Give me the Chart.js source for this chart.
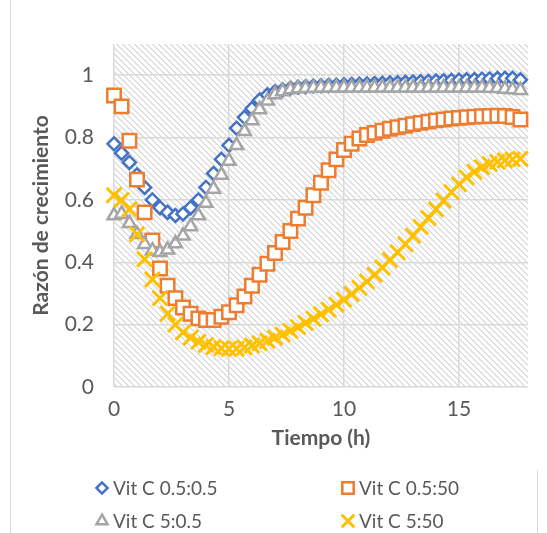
<!DOCTYPE html>
<html>
<head>
<meta charset="utf-8">
<script src="https://cdn.jsdelivr.net/npm/chart.js@4/dist/chart.umd.min.js"></script>
<style>
  body { margin: 0; background: #fff; }
  #wrap { width: 547px; height: 533px; position: relative; }
</style>
</head>
<body>
<div id="wrap"><canvas id="growthChart" width="547" height="533"></canvas></div>
<script>
// tiempo en horas (cada 20 min)
var tiempo = [
  0, 0.33, 0.67, 1, 1.33, 1.67, 2, 2.33, 2.67,
  3, 3.33, 3.67, 4, 4.33, 4.67, 5, 5.33, 5.67,
  6, 6.33, 6.67, 7, 7.33, 7.67, 8, 8.33, 8.67,
  9, 9.33, 9.67, 10, 10.33, 10.67, 11, 11.33, 11.67,
  12, 12.33, 12.67, 13, 13.33, 13.67, 14, 14.33, 14.67,
  15, 15.33, 15.67, 16, 16.33, 16.67, 17, 17.33, 17.67
];

var vitC_05_05 = [
  0.78, 0.75, 0.72, 0.68, 0.64, 0.60, 0.575, 0.56, 0.55,
  0.555, 0.575, 0.60, 0.64, 0.685, 0.73, 0.775, 0.83, 0.865,
  0.893, 0.92, 0.937, 0.947, 0.953, 0.958, 0.961, 0.963, 0.965,
  0.966, 0.967, 0.968, 0.969, 0.97, 0.971, 0.972, 0.973, 0.974,
  0.975, 0.976, 0.977, 0.978, 0.979, 0.98, 0.981, 0.982, 0.983,
  0.984, 0.985, 0.986, 0.987, 0.988, 0.989, 0.99, 0.99, 0.985
];

var vitC_05_50 = [
  0.935, 0.90, 0.79, 0.665, 0.56, 0.47, 0.38, 0.325, 0.285,
  0.255, 0.235, 0.22, 0.215, 0.215, 0.225, 0.24, 0.262, 0.29,
  0.325, 0.36, 0.395, 0.43, 0.465, 0.50, 0.54, 0.575, 0.615,
  0.655, 0.695, 0.73, 0.76, 0.78, 0.797, 0.808, 0.815, 0.822,
  0.828, 0.833, 0.838, 0.843, 0.847, 0.851, 0.855, 0.858, 0.861,
  0.863, 0.865, 0.867, 0.868, 0.869, 0.87, 0.869, 0.866, 0.858
];

var vitC_5_05 = [
  0.55, 0.555, 0.525, 0.49, 0.458, 0.437, 0.432, 0.44, 0.46,
  0.485, 0.515, 0.55, 0.59, 0.635, 0.68, 0.725, 0.775, 0.82,
  0.855, 0.89, 0.918, 0.938, 0.948, 0.954, 0.957, 0.958, 0.959,
  0.96, 0.96, 0.96, 0.96, 0.96, 0.96, 0.96, 0.96, 0.96,
  0.96, 0.96, 0.96, 0.96, 0.96, 0.96, 0.96, 0.96, 0.96,
  0.96, 0.96, 0.96, 0.96, 0.959, 0.958, 0.956, 0.954, 0.952
];

var vitC_5_50 = [
  0.615, 0.60, 0.57, 0.49, 0.41, 0.345, 0.285, 0.235, 0.20,
  0.175, 0.158, 0.145, 0.135, 0.128, 0.124, 0.122, 0.123, 0.127,
  0.133, 0.14, 0.148, 0.158, 0.168, 0.18, 0.192, 0.205, 0.219,
  0.233, 0.248, 0.264, 0.28, 0.298, 0.318, 0.338, 0.36, 0.383,
  0.407, 0.432, 0.458, 0.485, 0.513, 0.542, 0.57, 0.598, 0.625,
  0.65, 0.672, 0.69, 0.705, 0.715, 0.722, 0.727, 0.73, 0.732
];

var seriesNames = ['Vit C 0.5:0.5', 'Vit C 0.5:50', 'Vit C 5:0.5', 'Vit C 5:50'];
var seriesColors = ['#4472C4', '#ED7D31', '#A5A5A5', '#FFC000'];
var seriesStyles = ['rectRot', 'rect', 'triangle', 'crossRot'];
var seriesRadius = [6.5, 9.5, 7.5, 10.5];
var seriesBorder = [2.5, 2.5, 2.5, 3];

var textColor = '#595959';
var fontFamily = 'Lato, "Open Sans", sans-serif';

function toPoints(ys) {
  var pts = [];
  for (let i = 0; i < ys.length; i++) {
    pts.push({x: tiempo[i], y: ys[i]});
  }
  return pts;
}

var allSeries = [vitC_05_05, vitC_05_50, vitC_5_05, vitC_5_50];
var datasets = [];
for (let s = 0; s < allSeries.length; s++) {
  datasets.push({
    label: seriesNames[s],
    data: toPoints(allSeries[s]),
    showLine: false,
    pointStyle: seriesStyles[s],
    pointRadius: seriesRadius[s],
    pointHoverRadius: seriesRadius[s],
    pointBorderWidth: seriesBorder[s],
    pointBorderColor: seriesColors[s],
    pointBackgroundColor: '#ffffff',
    borderColor: seriesColors[s],
    backgroundColor: '#ffffff',
    order: allSeries.length - s,
    clip: false
  });
}

// diagonal hatch like the excel plot area
function makeHatch() {
  var c = document.createElement('canvas');
  c.width = 6; c.height = 6;
  var g = c.getContext('2d');
  g.fillStyle = '#ffffff';
  g.fillRect(0, 0, 6, 6);
  g.fillStyle = '#dedede';
  for (let y = 0; y < 6; y++) {
    for (let x = 0; x < 6; x++) {
      if ((x - y + 6) % 6 < 2) g.fillRect(x, y, 1, 1);
    }
  }
  return g.createPattern(c, 'repeat');
}

var plotBackground = {
  id: 'plotBackground',
  beforeDraw: function(chart) {
    var a = chart.chartArea;
    var ctx = chart.ctx;
    ctx.save();
    ctx.fillStyle = makeHatch();
    ctx.fillRect(a.left, a.top, a.right - a.left, a.bottom - a.top);
    // outer frame bits
    ctx.strokeStyle = '#d9d9d9';
    ctx.lineWidth = 1;
    ctx.beginPath();
    ctx.moveTo(10.5, 0);
    ctx.lineTo(10.5, 533);
    ctx.moveTo(537.5, 470);
    ctx.lineTo(537.5, 533);
    ctx.stroke();
    ctx.restore();
  }
};

var gridLegend = {
  id: 'gridLegend',
  afterDraw: function(chart) {
    var ctx = chart.ctx;
    var spots = [[102, 488], [348, 488], [102, 521], [348, 521]];
    ctx.save();
    ctx.font = '19px ' + fontFamily;
    ctx.textBaseline = 'middle';
    for (let s = 0; s < seriesNames.length; s++) {
      var p = spots[s];
      ctx.fillStyle = '#ffffff';
      ctx.strokeStyle = seriesColors[s];
      ctx.lineWidth = seriesBorder[s];
      Chart.helpers.drawPoint(ctx, {
        pointStyle: seriesStyles[s],
        radius: seriesRadius[s] * 0.85,
        rotation: 0,
        borderWidth: seriesBorder[s]
      }, p[0], p[1]);
      ctx.fillStyle = textColor;
      ctx.fillText(seriesNames[s], p[0] + 11, p[1] + 1);
    }
    ctx.restore();
  }
};

var ctx = document.getElementById('growthChart').getContext('2d');

var growthChart = new Chart(ctx, {
  type: 'scatter',
  data: { datasets: datasets },
  plugins: [plotBackground, gridLegend],
  options: {
    responsive: false,
    animation: false,
    layout: { padding: { left: 0, top: 44, right: 19, bottom: 76 } },
    plugins: {
      legend: { display: false },
      tooltip: { enabled: false }
    },
    scales: {
      x: {
        type: 'linear',
        min: 0,
        max: 18,
        afterFit: function(scale) { scale.height = 70; },
        ticks: {
          stepSize: 5,
          includeBounds: false,
          color: textColor,
          font: { family: fontFamily, size: 21 },
          padding: 10,
          maxRotation: 0
        },
        grid: { color: '#d9d9d9', lineWidth: 1.5, drawTicks: false },
        border: { display: false },
        title: {
          display: true,
          text: 'Tiempo (h)',
          color: textColor,
          font: { family: fontFamily, size: 21, weight: 'bold' },
          padding: { top: 0, bottom: 6 }
        }
      },
      y: {
        min: 0,
        max: 1.1,
        afterFit: function(scale) { scale.width = 114; },
        ticks: {
          stepSize: 0.2,
          includeBounds: false,
          color: textColor,
          font: { family: fontFamily, size: 21 },
          padding: 20,
          callback: function(v) { return Math.round(v * 10) / 10; }
        },
        grid: { color: '#d9d9d9', lineWidth: 1.5, drawTicks: false },
        border: { display: false },
        title: {
          display: true,
          text: 'Razón de crecimiento',
          color: textColor,
          font: { family: fontFamily, size: 21, weight: 'bold' },
          padding: { top: 29, bottom: 0 }
        }
      }
    }
  }
});
</script>
</body>
</html>
